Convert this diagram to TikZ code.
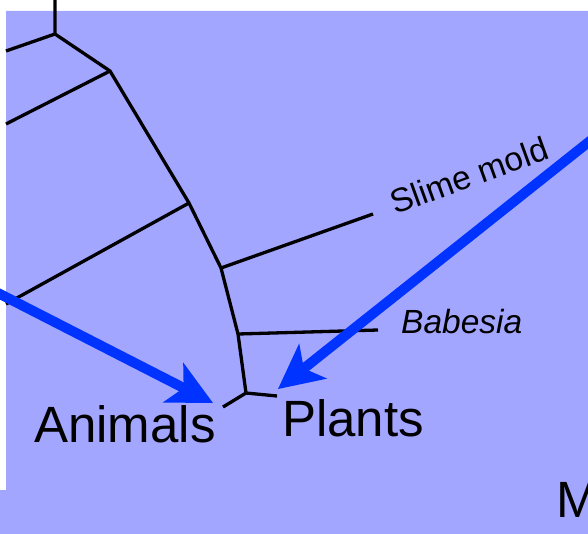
\documentclass[tikz,border=0pt]{standalone}
\usepackage{fontspec}
\setmainfont{Liberation Sans}
\usepackage{xcolor}
\usepackage{tikz}
\usetikzlibrary{arrows.meta}
\definecolor{Lilac}{HTML}{A3A6FF}
\definecolor{Cobalt}{HTML}{0033FF}

\begin{document}
\begin{tikzpicture}[x=1pt,y=-1pt,
    br/.style={draw=black,line width=3.3pt,line join=round},
    arw/.style={draw=Cobalt,line width=10pt,
      -{Stealth[length=45pt,width=45pt,inset=12pt,line width=0pt]}},
    big/.style={font=\fontsize{51}{60}\selectfont,inner sep=0pt,anchor=base west},
    small/.style={font=\fontsize{33.5}{40}\selectfont,inner sep=0pt,anchor=base west}]
  \useasboundingbox (0,0) rectangle (588,534);
  \clip (0,0) rectangle (588,534);
  \fill[Lilac] (6,11) -- (588,11) -- (588,534) -- (0,534) -- (0,490) -- (6,490) -- cycle;
  % tree
  \coordinate (top) at (55,0);
  \coordinate (J1) at (55,34);
  \coordinate (J2) at (110,71);
  \coordinate (J3) at (189,203);
  \coordinate (J4) at (221,268);
  \coordinate (J5) at (238,334);
  \coordinate (J6) at (246,393);
  \coordinate (L1) at (6,51);
  \coordinate (L2) at (6,124);
  \coordinate (L3) at (6,304);
  \coordinate (slime) at (373,214);
  \coordinate (babe) at (378,330);
  \coordinate (anim) at (223,407);
  \coordinate (plant) at (277,396);
  \draw[br] (top) -- (J1) -- (J2) -- (J3) -- (J4) -- (J5) -- (J6);
  \draw[br] (J1) -- (L1);
  \draw[br] (J2) -- (L2);
  \draw[br] (J3) -- (L3);
  \draw[br] (J4) -- (slime);
  \draw[br] (J5) -- (babe);
  \draw[br] (anim) -- (J6) -- (plant);
  % labels
  \node[small, rotate=20] (tSlime) at (395,215) {Slime mold};
  \node[small, font=\fontsize{33.5}{40}\selectfont\itshape] (tBabe) at (401,333) {Babesia};
  \node[big] (tAnim) at (34,442) {Animals};
  \node[big] (tPlant) at (282,436) {Plants};
  \node[big] (tM) at (556,517) {M};
  % arrows
  \coordinate (a1) at (-4,292);
  \coordinate (a1tip) at (213,403);
  \coordinate (a2) at (600,133);
  \coordinate (a2tip) at (278,389);
  \draw[arw] (a1) -- (a1tip);
  \draw[arw] (a2) -- (a2tip);
\end{tikzpicture}
\end{document}
